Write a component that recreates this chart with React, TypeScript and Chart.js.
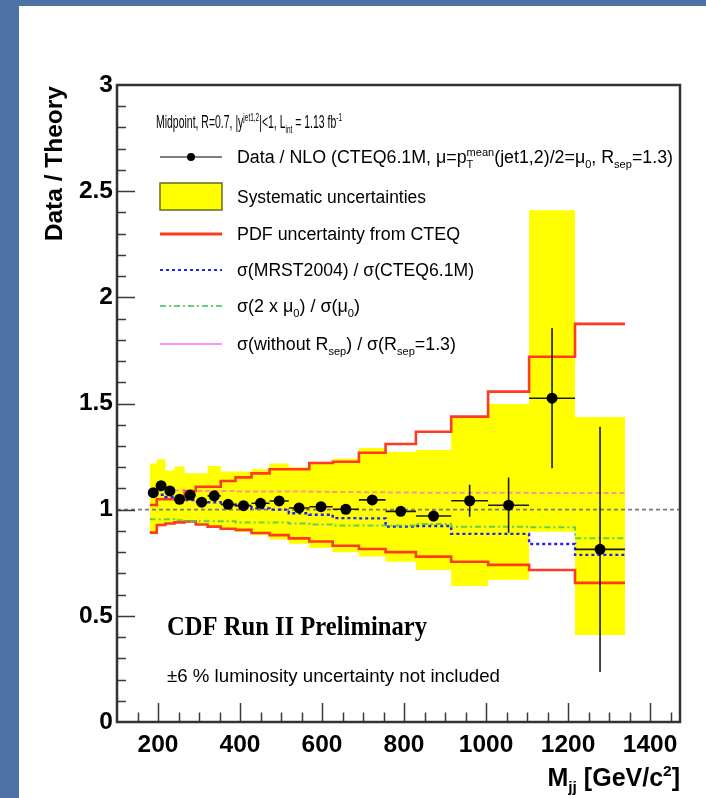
import React, { useEffect, useRef } from 'react';
import { Chart, registerables } from 'chart.js';

Chart.register(...registerables);

// ---- data ----
const binEdges = [180, 197, 218, 240, 265, 292, 321, 353, 389, 428, 472, 519, 569, 626, 690, 755, 829, 915, 1005, 1105, 1217, 1339];
const ratio = [1.080, 1.113, 1.088, 1.049, 1.069, 1.035, 1.065, 1.025, 1.019, 1.030, 1.041, 1.008, 1.014, 1.002, 1.046, 0.992, 0.970, 1.042, 1.021, 1.525, 0.813];
const statErr = [0.006, 0.006, 0.006, 0.006, 0.006, 0.006, 0.006, 0.007, 0.007, 0.008, 0.008, 0.009, 0.010, 0.011, 0.013, 0.017, 0.025, 0.075, 0.13, 0.33, 0.577];
const sysHigh = [1.218, 1.237, 1.184, 1.203, 1.171, 1.171, 1.206, 1.180, 1.180, 1.190, 1.218, 1.200, 1.220, 1.240, 1.290, 1.273, 1.281, 1.432, 1.498, 2.410, 1.437];
const sysLow = [0.890, 0.930, 0.930, 0.935, 0.940, 0.930, 0.920, 0.905, 0.895, 0.880, 0.860, 0.840, 0.820, 0.800, 0.780, 0.755, 0.716, 0.640, 0.670, 0.896, 0.410];
const pdfHigh = [1.022, 1.049, 1.049, 1.049, 1.088, 1.108, 1.108, 1.135, 1.152, 1.171, 1.190, 1.190, 1.220, 1.226, 1.268, 1.309, 1.367, 1.438, 1.556, 1.720, 1.875];
const pdfLow = [0.892, 0.928, 0.935, 0.940, 0.944, 0.930, 0.920, 0.910, 0.905, 0.890, 0.880, 0.865, 0.850, 0.830, 0.815, 0.800, 0.779, 0.755, 0.740, 0.716, 0.655];
const mrstRatio = [1.075, 1.070, 1.060, 1.050, 1.045, 1.040, 1.035, 1.025, 1.020, 1.006, 1.000, 0.983, 0.976, 0.960, 0.959, 0.920, 0.923, 0.886, 0.886, 0.838, 0.787];
const scale2Ratio = [0.955, 0.955, 0.955, 0.950, 0.945, 0.945, 0.945, 0.945, 0.940, 0.940, 0.940, 0.935, 0.930, 0.925, 0.925, 0.925, 0.933, 0.920, 0.920, 0.917, 0.865];
const noRsepRatio = [1.090, 1.090, 1.090, 1.090, 1.088, 1.088, 1.088, 1.088, 1.086, 1.086, 1.085, 1.085, 1.084, 1.083, 1.082, 1.081, 1.080, 1.080, 1.080, 1.079, 1.079];

const xTicks = [200, 400, 600, 800, 1000, 1200, 1400];
const yTicks = [0, 0.5, 1, 1.5, 2, 2.5, 3];
const xMin = 100;
const xMax = 1473;
const yMin = 0;
const yMax = 3;
const unityLevel = 1;

// ---- styles ----
const SANS = '"Liberation Sans", Arial, sans-serif';
const SERIF = '"Liberation Serif", "Times New Roman", serif';
const YELLOW = '#ffff00';
const RED = '#ff3a22';
const BLUE = '#1f1fff';
const GREEN = 'rgba(70,200,90,0.85)';
const PINK = 'rgba(255,80,235,0.6)';

const centers = ratio.map((_, i) => (binEdges[i] + binEdges[i + 1]) / 2);
const stepPts = (vals: number[]) =>
  binEdges.map((e, i) => ({ x: e, y: vals[Math.min(i, vals.length - 1)] }));

type Seg = { t?: string; m?: 'sup' | 'sub'; sub?: string; sup?: string };

function drawRich(
  ctx: CanvasRenderingContext2D,
  segs: Seg[],
  x: number,
  baseline: number,
  size: number,
  family: string,
  weight: string,
  targetW?: number,
  align: 'left' | 'right' = 'left'
) {
  const small = size * 0.62;
  const fnt = (s: number) => `${weight} ${s}px ${family}`;
  const widthOf = (seg: Seg) => {
    if (seg.sub !== undefined || seg.sup !== undefined) {
      ctx.font = fnt(small);
      return Math.max(ctx.measureText(seg.sub || '').width, ctx.measureText(seg.sup || '').width);
    }
    ctx.font = fnt(seg.m ? small : size);
    return ctx.measureText(seg.t || '').width;
  };
  const total = segs.reduce((a, s) => a + widthOf(s), 0);
  const sx = targetW ? targetW / total : 1;
  ctx.save();
  ctx.textAlign = 'left';
  ctx.textBaseline = 'alphabetic';
  const startX = align === 'right' ? x - total * sx : x;
  ctx.translate(startX, baseline);
  ctx.scale(sx, 1);
  let cx = 0;
  for (const seg of segs) {
    const w = widthOf(seg);
    if (seg.sub !== undefined || seg.sup !== undefined) {
      ctx.font = fnt(small);
      if (seg.sup) ctx.fillText(seg.sup, cx, -size * 0.42);
      if (seg.sub) ctx.fillText(seg.sub, cx, size * 0.25);
    } else if (seg.m === 'sup') {
      ctx.fillText(seg.t || '', cx, -size * 0.42);
    } else if (seg.m === 'sub') {
      ctx.fillText(seg.t || '', cx, size * 0.25);
    } else {
      ctx.fillText(seg.t || '', cx, 0);
    }
    cx += w;
  }
  ctx.restore();
}

const headerSegs: Seg[] = [
  { t: 'Midpoint, R=0.7, |y' }, { t: 'jet1,2', m: 'sup' }, { t: '|<1, L' }, { t: 'int', m: 'sub' },
  { t: ' = 1.13 fb' }, { t: '-1', m: 'sup' },
];
const dataSegs: Seg[] = [
  { t: 'Data / NLO (CTEQ6.1M, \u03bc=p' }, { sub: 'T', sup: 'mean' }, { t: '(jet1,2)/2=\u03bc' },
  { t: '0', m: 'sub' }, { t: ', R' }, { t: 'sep', m: 'sub' }, { t: '=1.3)' },
];
const sysSegs: Seg[] = [{ t: 'Systematic uncertainties' }];
const pdfSegs: Seg[] = [{ t: 'PDF uncertainty from CTEQ' }];
const mrstSegs: Seg[] = [{ t: '\u03c3(MRST2004) / \u03c3(CTEQ6.1M)' }];
const scaleSegs: Seg[] = [
  { t: '\u03c3(2 x \u03bc' }, { t: '0', m: 'sub' }, { t: ') / \u03c3(\u03bc' }, { t: '0', m: 'sub' }, { t: ')' },
];
const rsepSegs: Seg[] = [
  { t: '\u03c3(without R' }, { t: 'sep', m: 'sub' }, { t: ') / \u03c3(R' }, { t: 'sep', m: 'sub' }, { t: '=1.3)' },
];

const errorBarPlugin = {
  id: 'errorBars',
  beforeDatasetDraw(chart: any, args: any) {
    if (args.index !== 0) return;
    const { ctx, scales } = chart;
    const xs = scales.x;
    const ys = scales.y;
    ctx.save();
    ctx.strokeStyle = '#1a1a1a';
    ctx.lineWidth = 1.6;
    ctx.beginPath();
    ratio.forEach((v, i) => {
      const py = ys.getPixelForValue(v);
      ctx.moveTo(xs.getPixelForValue(binEdges[i]), py);
      ctx.lineTo(xs.getPixelForValue(binEdges[i + 1]), py);
      const px = xs.getPixelForValue(centers[i]);
      ctx.moveTo(px, ys.getPixelForValue(v - statErr[i]));
      ctx.lineTo(px, ys.getPixelForValue(v + statErr[i]));
    });
    ctx.stroke();
    ctx.restore();
  },
};

const framePlugin = {
  id: 'frameTicks',
  afterDraw(chart: any) {
    const { ctx, chartArea: a, scales } = chart;
    const xs = scales.x;
    const ys = scales.y;
    ctx.save();
    ctx.strokeStyle = '#3a3a3a';
    ctx.lineWidth = 1.5;
    ctx.beginPath();
    for (let v = 150; v <= 1450; v += 50) {
      const px = Math.round(xs.getPixelForValue(v)) + 0.5;
      const len = v % 200 === 0 ? 19 : 9.5;
      ctx.moveTo(px, a.bottom);
      ctx.lineTo(px, a.bottom - len);
    }
    for (let k = 1; k < 30; k++) {
      const py = Math.round(ys.getPixelForValue(k / 10)) + 0.5;
      const len = k % 5 === 0 ? 18 : 9;
      ctx.moveTo(a.left, py);
      ctx.lineTo(a.left + len, py);
    }
    ctx.stroke();
    ctx.strokeStyle = '#333';
    ctx.lineWidth = 2.5;
    ctx.strokeRect(a.left, a.top, a.right - a.left, a.bottom - a.top);
    ctx.restore();
  },
};

const textPlugin = {
  id: 'texts',
  afterDraw(chart: any) {
    const ctx: CanvasRenderingContext2D = chart.ctx;
    ctx.save();
    ctx.fillStyle = '#000';

    // axis titles
    drawRich(ctx, [{ t: 'M' }, { t: 'jj', m: 'sub' }, { t: ' [GeV/c' }, { t: '2', m: 'sup' }, { t: ']' }],
      680, 786, 25, SANS, 'bold', undefined, 'right');
    ctx.save();
    ctx.translate(62, 86);
    ctx.rotate(-Math.PI / 2);
    drawRich(ctx, [{ t: 'Data / Theory' }], 0, 0, 24.5, SANS, 'bold', undefined, 'right');
    ctx.restore();

    // legend samples
    const x0 = 160;
    const x1 = 222;
    const rows = [157, 196.5, 234, 270, 306, 344];
    ctx.lineWidth = 1.2;
    ctx.strokeStyle = '#000';
    ctx.beginPath();
    ctx.moveTo(x0, rows[0]);
    ctx.lineTo(x1, rows[0]);
    ctx.stroke();
    ctx.beginPath();
    ctx.arc((x0 + x1) / 2, rows[0], 4, 0, Math.PI * 2);
    ctx.fill();

    ctx.fillStyle = YELLOW;
    ctx.fillRect(x0, 183, x1 - x0, 27);
    ctx.strokeStyle = '#6a6a20';
    ctx.lineWidth = 1.5;
    ctx.strokeRect(x0, 183, x1 - x0, 27);

    const line = (y: number, color: string, w: number, dash: number[]) => {
      ctx.save();
      ctx.strokeStyle = color;
      ctx.lineWidth = w;
      ctx.setLineDash(dash);
      ctx.beginPath();
      ctx.moveTo(x0, y);
      ctx.lineTo(x1, y);
      ctx.stroke();
      ctx.restore();
    };
    line(rows[2], RED, 3, []);
    line(rows[3], BLUE, 2.2, [3, 3]);
    line(rows[4], GREEN, 2.2, [6, 3, 2, 3]);
    line(rows[5], PINK, 2, []);

    ctx.fillStyle = '#000';
    const fs = 17.6;
    const off = fs * 0.36;
    drawRich(ctx, headerSegs, 156, 122 + off, 17.5, SANS, 'normal', 186);
    drawRich(ctx, dataSegs, 237, rows[0] + off, fs, SANS, 'normal', 436);
    drawRich(ctx, sysSegs, 237, rows[1] + off, fs, SANS, 'normal', 189);
    drawRich(ctx, pdfSegs, 237, rows[2] + off, fs, SANS, 'normal', 223);
    drawRich(ctx, mrstSegs, 237, rows[3] + off, fs, SANS, 'normal', 237);
    drawRich(ctx, scaleSegs, 237, rows[4] + off, fs, SANS, 'normal', 123);
    drawRich(ctx, rsepSegs, 237, rows[5] + off, fs, SANS, 'normal', 219);

    // annotations
    drawRich(ctx, [{ t: 'CDF Run II Preliminary' }], 167, 635, 28, SERIF, 'bold', 260);
    drawRich(ctx, [{ t: '\u00b16 % luminosity uncertainty not included' }], 167, 682, 18.5, SANS, 'normal', 333);
    ctx.restore();
  },
};

export default function App() {
  const ref = useRef<HTMLCanvasElement>(null);

  useEffect(() => {
    if (!ref.current) return;
    const stepLine = (label: string, vals: number[], color: string, width: number, dash: number[], order: number) => ({
      type: 'line' as const,
      label,
      data: stepPts(vals),
      borderColor: color,
      borderWidth: width,
      borderDash: dash,
      stepped: 'before' as const,
      pointRadius: 0,
      fill: false,
      order,
    });
    const chart = new Chart(ref.current, {
      type: 'line',
      data: {
        datasets: [
          {
            type: 'scatter',
            label: 'Data / NLO',
            data: centers.map((c, i) => ({ x: c, y: ratio[i] })),
            backgroundColor: '#000',
            borderColor: '#000',
            borderWidth: 0,
            pointRadius: 5.5,
            order: 0,
          } as any,
          stepLine('without Rsep', noRsepRatio, PINK, 2, [5, 3], 1),
          stepLine('2 x mu0', scale2Ratio, GREEN, 2, [6, 3, 2, 3], 2),
          stepLine('MRST2004', mrstRatio, BLUE, 2.4, [3, 3], 3),
          stepLine('PDF up', pdfHigh, RED, 2.6, [], 4),
          stepLine('PDF down', pdfLow, RED, 2.6, [], 4),
          {
            type: 'line',
            label: 'unity',
            data: [{ x: xMin, y: unityLevel }, { x: xMax, y: unityLevel }],
            borderColor: '#7a7a7a',
            borderWidth: 1.6,
            borderDash: [4, 3],
            pointRadius: 0,
            fill: false,
            order: 8,
          } as any,
          { ...stepLine('sys low', sysLow, 'rgba(0,0,0,0)', 0, [], 9) },
          { ...stepLine('sys high', sysHigh, 'rgba(0,0,0,0)', 0, [], 9), fill: '-1', backgroundColor: YELLOW },
        ] as any,
      },
      options: {
        responsive: false,
        animation: false,
        devicePixelRatio: 1,
        events: [],
        layout: { padding: { top: 85, right: 26, left: 0, bottom: 0 } },
        plugins: { legend: { display: false }, tooltip: { enabled: false } },
        scales: {
          x: {
            type: 'linear',
            min: xMin,
            max: xMax,
            grid: { display: false },
            border: { display: false },
            afterBuildTicks: (s: any) => {
              s.ticks = xTicks.map((v) => ({ value: v }));
            },
            afterFit: (s: any) => {
              s.height = 76;
            },
            ticks: {
              color: '#000',
              padding: 1,
              maxRotation: 0,
              autoSkip: false,
              font: { family: SANS, size: 24.5, weight: 'bold' },
              callback: (v: any) => String(v),
            },
          },
          y: {
            type: 'linear',
            min: yMin,
            max: yMax,
            grid: { display: false },
            border: { display: false },
            afterBuildTicks: (s: any) => {
              s.ticks = yTicks.map((v) => ({ value: v }));
            },
            afterFit: (s: any) => {
              s.width = 117;
            },
            ticks: {
              color: '#000',
              padding: -4,
              autoSkip: false,
              font: { family: SANS, size: 24.5, weight: 'bold' },
              callback: (v: any) => String(v),
            },
          },
        },
      } as any,
      plugins: [errorBarPlugin, framePlugin, textPlugin],
    });
    return () => chart.destroy();
  }, []);

  return (
    <div style={{ position: 'absolute', left: 0, top: 0, width: 706, height: 798, background: '#4e71a6', overflow: 'hidden' }}>
      <div style={{ position: 'absolute', left: 19, top: 6, right: 0, bottom: 0, background: '#ffffff' }} />
      <canvas ref={ref} width={706} height={798} style={{ position: 'absolute', left: 0, top: 0 }} />
    </div>
  );
}
